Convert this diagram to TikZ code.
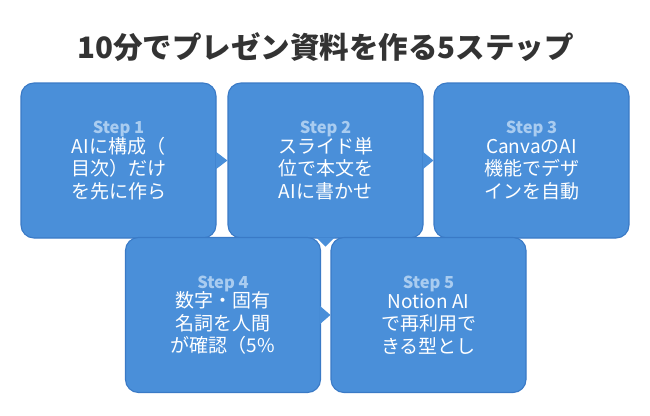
\documentclass[tikz,border=0pt]{standalone}
\usepackage{fontspec}
\setmainfont{Noto Sans CJK JP}
\usepackage{xcolor}
\usetikzlibrary{positioning, calc}
\definecolor{boxfill}{HTML}{4A8FD9}
\definecolor{boxline}{HTML}{3A7AC6}
\definecolor{steptxt}{HTML}{A9CCF0}
\definecolor{titeltxt}{HTML}{333333}
\newcommand{\stepnr}[1]{{\fontsize{16.5}{18}\selectfont\bfseries\color{steptxt}Step #1}\\[-3pt]}
\tikzset{
    stepbox/.style = {draw=boxline, fill=boxfill, line width=1.1pt, rounded corners=13pt,
                      minimum width=195pt, minimum height=155pt, inner sep=0pt,
                      align=center, text=white, font=\fontsize{19}{22.5}\selectfont},
    zeiger/.style  = {fill=boxfill},
    titel/.style   = {font=\fontsize{29.5}{34}\selectfont\bfseries, text=titeltxt}
}

\begin{document}
\begin{tikzpicture}[x=1pt, y=-1pt]
    \useasboundingbox (0,0) rectangle (650,415);

    % --- Titel ---
    \node[titel] (titel) at (325.5,47) {10分でプレゼン資料を作る5ステップ};

    % --- obere Reihe ---
    \node[stepbox] (s1) at (118.5,160.5) {\stepnr{1}AIに構成（\\目次）だけ\\を先に作ら};
    \node[stepbox] (s2) at (325.5,160.5) {\stepnr{2}スライド単\\位で本文を\\AIに書かせ};
    \node[stepbox] (s3) at (531.5,160.5) {\stepnr{3}CanvaのAI\\機能でデザ\\インを自動};

    % --- untere Reihe ---
    \node[stepbox] (s4) at (223,315) {\stepnr{4}数字・固有\\名詞を人間\\が確認（5\%};
    \node[stepbox] (s5) at (428.5,315) {\stepnr{5}Notion AI\\で再利用で\\きる型とし};

    % --- Zeiger ---
    \fill[zeiger] ($(s1.east)+(-1,-9)$) -- (s2.west) -- ($(s1.east)+(-1,9)$) -- cycle;
    \fill[zeiger] ($(s2.east)+(-1,-9)$) -- (s3.west) -- ($(s2.east)+(-1,9)$) -- cycle;
    \fill[zeiger] ($(s2.south)+(-9,-1)$) -- ($(s2.south)+(0,8)$) -- ($(s2.south)+(9,-1)$) -- cycle;
    \fill[zeiger] ($(s4.east)+(-1,-9)$) -- (s5.west) -- ($(s4.east)+(-1,9)$) -- cycle;
\end{tikzpicture}
\end{document}
